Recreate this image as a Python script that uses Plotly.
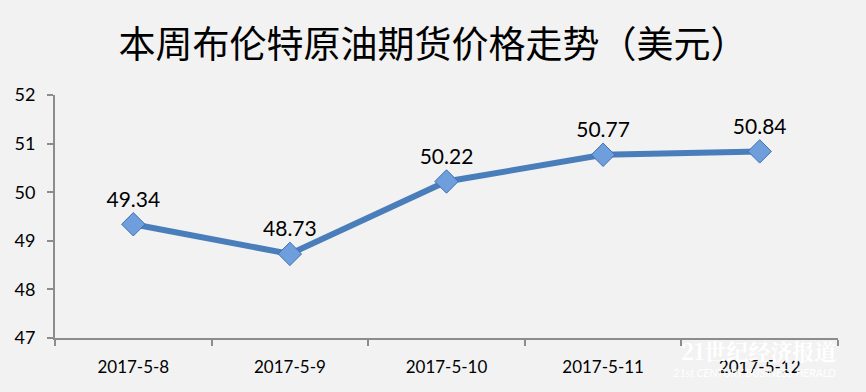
import plotly.graph_objects as go

dates = ["2017-5-8", "2017-5-9", "2017-5-10", "2017-5-11", "2017-5-12"]
prices = [49.34, 48.73, 50.22, 50.77, 50.84]
y_ticks = [47, 48, 49, 50, 51, 52]
title_text = "本周布伦特原油期货价格走势（美元）"

fig = go.Figure()
fig.add_trace(go.Scatter(
    x=dates, y=prices, mode="lines+markers+text",
    line=dict(color="#4a7ebb", width=6),
    marker=dict(symbol="diamond", size=18, color="#6e9fdc",
                line=dict(color="#3e6fb0", width=1)),
    text=[f"{v:.2f}" for v in prices],
    textposition="top center",
    textfont=dict(family="Lato, Carlito, Open Sans, sans-serif", size=21, color="#000000"),
    cliponaxis=False,
    hoverinfo="skip",
))

fig.update_layout(
    width=866, height=392,
    paper_bgcolor="#f2f2f2", plot_bgcolor="#f2f2f2",
    margin=dict(l=55, r=28, t=95, b=54),
    showlegend=False,
    title=dict(text=title_text, x=0.5, xanchor="center", y=0.885, yanchor="middle",
               font=dict(family="Noto Sans CJK SC", size=37, color="#000000")),
    font=dict(family="Lato, Open Sans, sans-serif", color="#000000"),
)
fig.update_xaxes(
    type="category", showgrid=False, zeroline=False,
    showline=True, linecolor="#8c8c8c", linewidth=2,
    ticks="outside", ticklen=6, tickcolor="#8c8c8c", tickwidth=2,
    tickson="boundaries",
    tickfont=dict(size=17, color="#000000"),
    ticklabelstandoff=13,
    range=[-0.5, 4.5],
)
fig.update_yaxes(
    range=[47, 52], tickvals=y_ticks, showgrid=False, zeroline=False,
    showline=True, linecolor="#8c8c8c", linewidth=2,
    ticks="outside", ticklen=6, tickcolor="#8c8c8c", tickwidth=2,
    tickfont=dict(size=18, color="#000000"),
    ticklabelstandoff=8,
)

fig.add_annotation(text="<b>21世纪经济报道</b>", xref="paper", yref="paper",
                   x=1.0, y=-0.05, xanchor="right", yanchor="middle", showarrow=False,
                   font=dict(family="Noto Serif CJK SC, Noto Sans CJK SC", size=22, color="#ffffff"))
fig.add_annotation(text="<i>21st CENTURY BUSINESS HERALD</i>", xref="paper", yref="paper",
                   x=1.0, y=-0.14, xanchor="right", yanchor="middle", showarrow=False,
                   font=dict(family="Lato, sans-serif", size=11, color="#ffffff"))

fig.write_html(
    "out.html",
    config={"displayModeBar": False},
    post_script="document.body.style.margin='0';document.body.style.background='#f2f2f2';",
)
